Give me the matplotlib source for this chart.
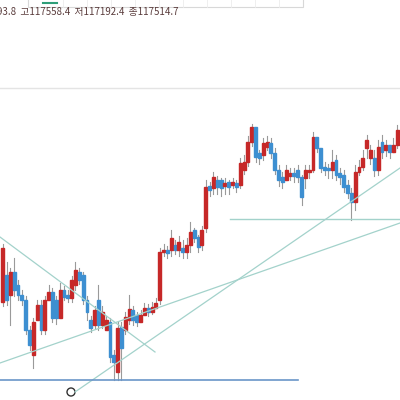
import matplotlib
matplotlib.use("Agg")
import matplotlib.pyplot as plt
from matplotlib.patches import Rectangle, Circle

# candle values in chart units (higher = up)
opens_px = [302,275,295,272,285,295,300,330,355,320,305,330,300,292,300,318,290,295,298,285,272,275,300,320,325,300,325,330,322,355,
            372,327,330,320,310,315,322,315,308,312,308,300,252,250,250,245,250,248,252,245,230,237,245,228,186,188,180,180,186,182,185,183,
            185,170,162,142,127,153,155,147,143,153,170,177,180,176,173,170,177,178,172,170,137,148,167,168,170,160,173,175,185,193,
            202,172,167,148,158,158,170,142,150,145,152,145]
closes_px = [248,300,272,290,295,300,330,345,322,305,330,300,292,318,318,290,297,298,280,270,280,300,312,328,310,325,312,320,357,362,
             328,348,317,309,320,322,315,308,312,307,303,252,250,253,238,250,242,252,245,232,238,247,230,187,190,177,187,188,183,187,182,187,
             163,162,142,127,157,158,143,142,153,170,180,182,170,173,176,177,197,170,170,137,148,168,170,170,162,175,177,187,193,202,
             172,167,158,140,150,170,147,152,145,152,145,130]
highs_px = [244,262,268,258,280,290,296,326,318,300,300,296,285,288,296,283,286,290,276,262,268,272,296,316,306,285,306,316,318,350,
            322,322,312,295,306,312,310,303,304,302,298,248,244,246,230,240,236,240,238,222,228,235,226,180,182,172,176,178,178,180,178,180,
            158,155,136,124,130,150,138,136,138,148,165,172,165,168,168,165,175,165,165,132,140,160,162,164,150,155,168,170,180,188,
            165,160,150,135,145,150,140,135,140,145,138,125]
lows_px = [306,305,325,296,300,305,334,350,368,310,334,334,298,322,324,296,300,302,302,290,284,304,320,332,328,330,328,326,362,380,
           380,380,334,324,325,326,320,314,316,314,308,304,256,258,256,254,256,258,258,252,242,252,250,232,196,194,194,196,194,194,188,192,
           188,174,166,146,162,164,160,150,158,174,186,188,180,180,182,182,205,188,178,172,152,172,175,178,178,180,184,192,198,220,
           210,175,170,158,164,176,175,158,156,158,152,148]

def val(p):
    return 400 - p

opens = [val(p) for p in opens_px]
closes = [val(p) for p in closes_px]
highs = [val(p) for p in highs_px]
lows = [val(p) for p in lows_px]

header = "93.8  고117558.4  저117192.4  종117514.7"

fig = plt.figure(figsize=(4, 4), dpi=100)
ax = fig.add_axes([0, 0, 1, 1])
n = len(opens)
ax.set_xlim(-0.7, n - 0.3)
ax.set_ylim(0, 400)
ax.axis("off")
up_c, dn_c = "#c62828", "#3d8fd1"
for i, (o, c, h, l) in enumerate(zip(opens, closes, highs, lows)):
    col = up_c if c >= o else dn_c
    ax.plot([i, i], [l, h], color="#9a9a9a", lw=0.8, zorder=2)
    ax.add_patch(Rectangle((i - 0.38, min(o, c)), 0.76, max(abs(c - o), 1), color=col, zorder=3))

# overlay in pixel coords for drawings
ov = fig.add_axes([0, 0, 1, 1], facecolor="none")
ov.set_xlim(0, 400); ov.set_ylim(400, 0); ov.axis("off")
teal = "#a3d2cb"
ov.plot([0, 155], [237, 352], color=teal, lw=0.9)
ov.plot([0, 400], [363, 223], color=teal, lw=0.9)
ov.plot([75, 400], [392, 168], color=teal, lw=0.9)
ov.plot([230, 400], [219, 219], color=teal, lw=1.0)
ov.plot([0, 298], [380, 380], color="#6a96c8", lw=1.2)
ov.plot([0, 400], [88, 88], color="#e4e4e4", lw=1.0)
ov.add_patch(Circle((71, 392), 4, fill=False, ec="#333333", lw=1.0))
ov.add_patch(Rectangle((28, -5), 275, 12, fill=True, fc="white", ec="#d8d8d8", lw=0.8))
for xs in [63, 87, 111, 135, 159, 183, 207, 231, 255, 279]:
    ov.plot([xs, xs], [-5, 7], color="#ececec", lw=0.6)
ov.plot([43, 57], [2.5, 2.5], color="#2e9e78", lw=1.5)
ov.text(-3, 12, header, fontsize=7, color="#5a3c3c", va="center", ha="left",
        family=["Noto Sans CJK KR", "DejaVu Sans"])

fig.savefig("out.png", dpi=100)
